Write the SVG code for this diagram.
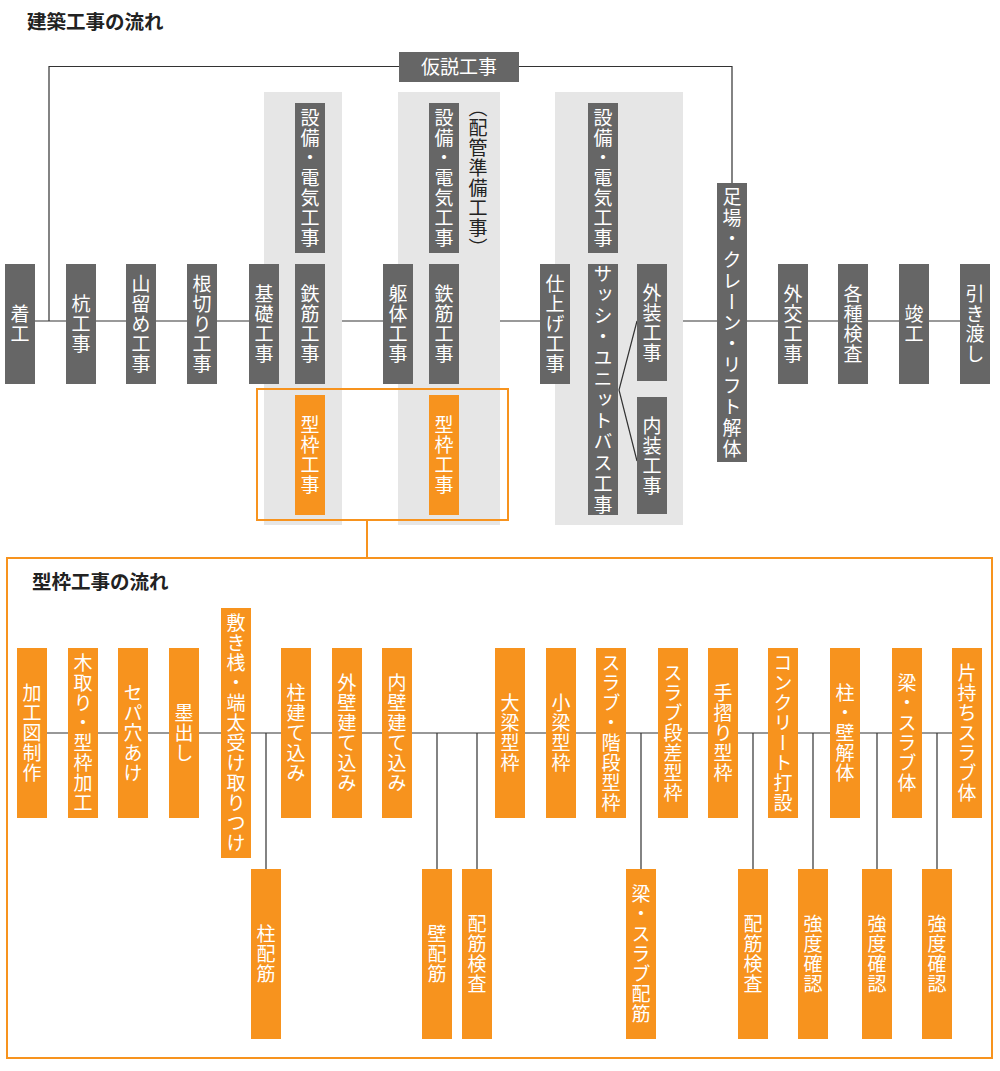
<svg xmlns="http://www.w3.org/2000/svg" width="1000" height="1071" viewBox="0 0 1000 1071">
<style>
.dk{fill:#666666}
.or{fill:#f7931e}
.pn{fill:#e6e6e6}
.vt{font-family:"Noto Sans CJK JP","Noto Sans CJK SC",sans-serif;font-size:19px;fill:#ffffff;writing-mode:vertical-rl;text-anchor:middle;letter-spacing:1px}
.ht{font-family:"Noto Sans CJK JP","Noto Sans CJK SC",sans-serif;font-size:19px;fill:#ffffff;text-anchor:middle}
.ttl{font-family:"Noto Sans CJK JP","Noto Sans CJK SC",sans-serif;font-size:19.5px;font-weight:bold;fill:#222222}
.ln{fill:none;stroke:#333333;stroke-width:1.2}
.main{fill:none;stroke:#999999;stroke-width:2}
.ol{fill:none;stroke:#f7931e;stroke-width:2}
</style>
<rect width="1000" height="1071" fill="#ffffff"/>
<text class="ttl" x="27" y="29">建築工事の流れ</text>
<g id="panels">
<rect class="pn" x="264" y="92" width="78" height="433"/>
<rect class="pn" x="398" y="92" width="102" height="433"/>
<rect class="pn" x="555" y="92" width="128" height="433"/>
</g>
<g id="connectors">
<path class="main" d="M35,321 H264 M342,321 H398 M500,321 H555 M683,321 H960"/>
<path class="ln" d="M49,321 V66.5 H399 M519,66.5 H732 V183"/>
<path class="ln" d="M637,321 L619,390 L637,461"/>
<rect class="ol" x="257" y="389" width="251" height="131"/>
<path class="ol" d="M367,520 V558"/>
<path class="ln" d="M47,733 H952"/>
<path class="ln" d="M266,733 V869 M437,733 V869 M477,733 V869 M641,733 V869 M753,733 V869 M813,733 V869 M877,733 V869 M937,733 V869"/>
</g>
<g id="n-kasetsu"><rect class="dk" x="399" y="52" width="120" height="30"/><text class="ht" x="459" y="74">仮説工事</text></g>
<g id="n-chakko"><rect class="dk" x="5" y="264" width="30" height="120"/><text class="vt" x="20" y="324">着工</text></g>
<g id="n-kui"><rect class="dk" x="66" y="264" width="30" height="120"/><text class="vt" x="81" y="324">杭工事</text></g>
<g id="n-yamadome"><rect class="dk" x="126" y="264" width="30" height="120"/><text class="vt" x="141" y="324">山留め工事</text></g>
<g id="n-negiri"><rect class="dk" x="187" y="264" width="30" height="120"/><text class="vt" x="202" y="324">根切り工事</text></g>
<g id="n-kiso"><rect class="dk" x="249" y="264" width="30" height="120"/><text class="vt" x="264" y="324">基礎工事</text></g>
<g id="n-setsubi1"><rect class="dk" x="295" y="103" width="30" height="150"/><text class="vt" x="310" y="178">設備・電気工事</text></g>
<g id="n-tekkin1"><rect class="dk" x="295" y="264" width="30" height="120"/><text class="vt" x="310" y="324">鉄筋工事</text></g>
<g id="n-kata1"><rect class="or" x="295" y="395" width="30" height="120"/><text class="vt" x="310" y="455">型枠工事</text></g>
<g id="n-kutai"><rect class="dk" x="383" y="264" width="30" height="120"/><text class="vt" x="398" y="324">躯体工事</text></g>
<g id="n-setsubi2"><rect class="dk" x="429" y="103" width="30" height="150"/><text class="vt" x="444" y="178">設備・電気工事</text></g>
<g id="n-haikan"><text class="vt" x="478" y="178" style="fill:#222222">（配管準備工事）</text></g>
<g id="n-tekkin2"><rect class="dk" x="429" y="264" width="30" height="120"/><text class="vt" x="444" y="324">鉄筋工事</text></g>
<g id="n-kata2"><rect class="or" x="429" y="395" width="30" height="120"/><text class="vt" x="444" y="455">型枠工事</text></g>
<g id="n-shiage"><rect class="dk" x="540" y="264" width="30" height="120"/><text class="vt" x="555" y="324">仕上げ工事</text></g>
<g id="n-setsubi3"><rect class="dk" x="588" y="103" width="30" height="150"/><text class="vt" x="603" y="178">設備・電気工事</text></g>
<g id="n-sash"><rect class="dk" x="588" y="264" width="30" height="251"/><text class="vt" x="603" y="390" style="letter-spacing:2px">サッシ・ユニットバス工事</text></g>
<g id="n-gaiso"><rect class="dk" x="637" y="264" width="30" height="117"/><text class="vt" x="652" y="323">外装工事</text></g>
<g id="n-naiso"><rect class="dk" x="637" y="397" width="30" height="117"/><text class="vt" x="652" y="456">内装工事</text></g>
<g id="n-ashiba"><rect class="dk" x="717" y="183" width="30" height="279"/><text class="vt" x="732" y="324" style="letter-spacing:2px">足場・クレーン・リフト解体</text></g>
<g id="n-gaiko"><rect class="dk" x="778" y="264" width="30" height="120"/><text class="vt" x="793" y="324">外交工事</text></g>
<g id="n-kakushu"><rect class="dk" x="838" y="264" width="30" height="120"/><text class="vt" x="853" y="324">各種検査</text></g>
<g id="n-shunko"><rect class="dk" x="899" y="264" width="30" height="120"/><text class="vt" x="914" y="324">竣工</text></g>
<g id="n-hikiwatashi"><rect class="dk" x="960" y="264" width="30" height="120"/><text class="vt" x="975" y="324">引き渡し</text></g>
<g id="katawaku-flow">
<rect class="ol" x="7" y="558" width="985" height="500"/>
<text class="ttl" x="32" y="589">型枠工事の流れ</text>
</g>
<g id="k1"><rect class="or" x="17" y="648" width="30" height="170"/><text class="vt" x="32" y="733">加工図制作</text></g>
<g id="k2"><rect class="or" x="68" y="648" width="30" height="170"/><text class="vt" x="83" y="733">木取り・型枠加工</text></g>
<g id="k3"><rect class="or" x="118" y="648" width="30" height="170"/><text class="vt" x="133" y="733">セパ穴あけ</text></g>
<g id="k4"><rect class="or" x="169" y="648" width="30" height="170"/><text class="vt" x="184" y="733">墨出し</text></g>
<g id="k5"><rect class="or" x="221" y="608" width="30" height="250"/><text class="vt" x="236" y="733">敷き桟・端太受け取りつけ</text></g>
<g id="k6"><rect class="or" x="281" y="648" width="30" height="170"/><text class="vt" x="296" y="733">柱建て込み</text></g>
<g id="k7"><rect class="or" x="332" y="648" width="30" height="170"/><text class="vt" x="347" y="733">外壁建て込み</text></g>
<g id="k8"><rect class="or" x="382" y="648" width="30" height="170"/><text class="vt" x="397" y="733">内壁建て込み</text></g>
<g id="k9"><rect class="or" x="495" y="648" width="30" height="170"/><text class="vt" x="510" y="733">大梁型枠</text></g>
<g id="k10"><rect class="or" x="546" y="648" width="30" height="170"/><text class="vt" x="561" y="733">小梁型枠</text></g>
<g id="k11"><rect class="or" x="596" y="648" width="30" height="170"/><text class="vt" x="611" y="733">スラブ・階段型枠</text></g>
<g id="k12"><rect class="or" x="658" y="648" width="30" height="170"/><text class="vt" x="673" y="733">スラブ段差型枠</text></g>
<g id="k13"><rect class="or" x="708" y="648" width="30" height="170"/><text class="vt" x="723" y="733">手摺り型枠</text></g>
<g id="k14"><rect class="or" x="768" y="648" width="30" height="170"/><text class="vt" x="783" y="733">コンクリート打設</text></g>
<g id="k15"><rect class="or" x="830" y="648" width="30" height="170"/><text class="vt" x="845" y="733">柱・壁解体</text></g>
<g id="k16"><rect class="or" x="892" y="648" width="30" height="170"/><text class="vt" x="907" y="733">梁・スラブ体</text></g>
<g id="k17"><rect class="or" x="952" y="648" width="30" height="170"/><text class="vt" x="967" y="733">片持ちスラブ体</text></g>
<g id="s1"><rect class="or" x="251" y="869" width="30" height="170"/><text class="vt" x="266" y="954">柱配筋</text></g>
<g id="s2"><rect class="or" x="422" y="869" width="30" height="170"/><text class="vt" x="437" y="954">壁配筋</text></g>
<g id="s3"><rect class="or" x="462" y="869" width="30" height="170"/><text class="vt" x="477" y="954">配筋検査</text></g>
<g id="s4"><rect class="or" x="626" y="869" width="30" height="170"/><text class="vt" x="641" y="954">梁・スラブ配筋</text></g>
<g id="s5"><rect class="or" x="738" y="869" width="30" height="170"/><text class="vt" x="753" y="954">配筋検査</text></g>
<g id="s6"><rect class="or" x="798" y="869" width="30" height="170"/><text class="vt" x="813" y="954">強度確認</text></g>
<g id="s7"><rect class="or" x="862" y="869" width="30" height="170"/><text class="vt" x="877" y="954">強度確認</text></g>
<g id="s8"><rect class="or" x="922" y="869" width="30" height="170"/><text class="vt" x="937" y="954">強度確認</text></g>
</svg>
